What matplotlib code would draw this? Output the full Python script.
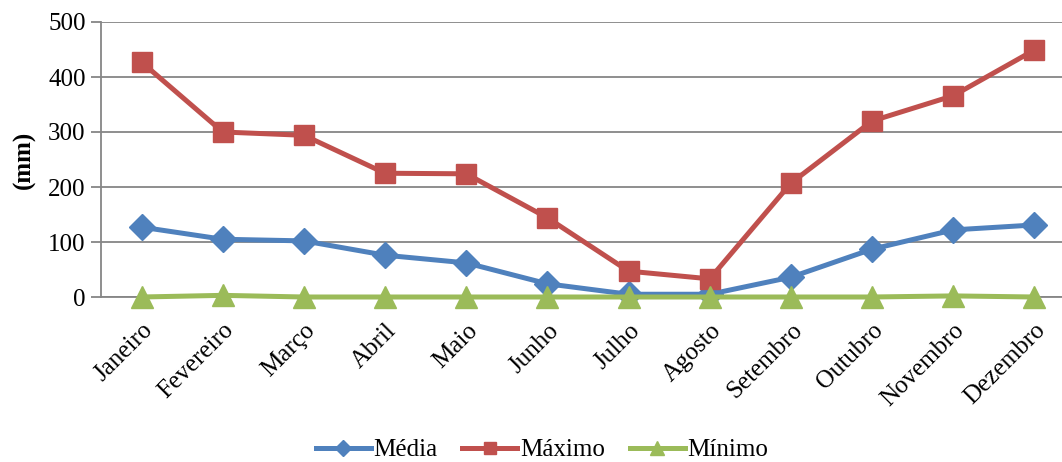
import matplotlib.pyplot as plt

# precipitacao mensal (mm)
meses = ['Janeiro', 'Fevereiro', 'Março', 'Abril', 'Maio', 'Junho',
         'Julho', 'Agosto', 'Setembro', 'Outubro', 'Novembro', 'Dezembro']
media = [127, 105, 102, 76, 62, 24, 5, 5, 36, 87, 122, 131]
maximo = [427, 300, 294, 225, 224, 144, 47, 33, 207, 320, 366, 449]
minimo = [0, 3, 0, 0, 0, 0, 0, 0, 0, 0, 2, 0]

plt.rcParams['font.family'] = ['Liberation Serif', 'DejaVu Serif']

fig = plt.figure(figsize=(10.62, 4.62), dpi=100)
ax = fig.add_axes([101/1062, 1 - 297/462, 974/1062, 275/462])

x = list(range(len(meses)))
ax.plot(x, media, color='#4F81BD', lw=3.6, marker='D', ms=13, label='Média',
        zorder=3, clip_on=False)
ax.plot(x, maximo, color='#C0504D', lw=3.6, marker='s', ms=15, label='Máximo',
        zorder=3, clip_on=False)
ax.plot(x, minimo, color='#9BBB59', lw=3.6, marker='^', ms=16, label='Mínimo',
        zorder=3, clip_on=False)

ax.set_xlim(-0.5, 11.5)
ax.set_ylim(0, 500)
ax.set_yticks([0, 100, 200, 300, 400, 500])
ax.yaxis.grid(True, color='#868686', lw=1.3)
ax.set_axisbelow(True)

ax.set_xticks(x)
ax.set_xticklabels(meses, rotation=45, ha='right', rotation_mode='anchor')
ax.tick_params(axis='x', length=0, pad=16, labelsize=18)
ax.tick_params(axis='y', length=7, width=1.3, color='#868686', labelsize=18, pad=4)

for s in ['top', 'right']:
    ax.spines[s].set_visible(False)
ax.spines['left'].set_color('#868686')
ax.spines['left'].set_linewidth(1.3)
ax.spines['bottom'].set_color('#868686')
ax.spines['bottom'].set_linewidth(1.3)

ax.set_ylabel('(mm)', fontsize=18, fontweight='bold', labelpad=9)

fig.legend(loc='center', bbox_to_anchor=(542/1062, 1 - 450/462), ncol=3,
           frameon=False, fontsize=18, handlelength=2.2, columnspacing=1.0,
           handletextpad=0.1, markerscale=0.6)

plt.savefig('out.png', dpi=100)
